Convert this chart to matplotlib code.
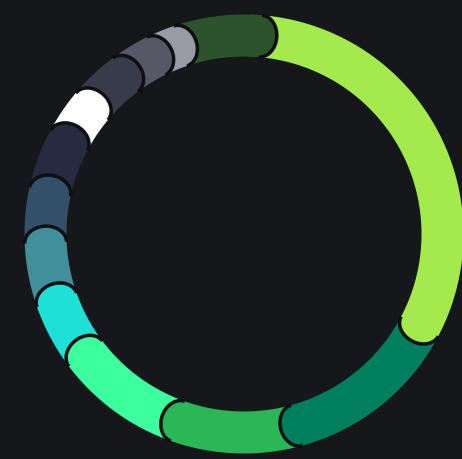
import numpy as np
import matplotlib
matplotlib.use("Agg")
import matplotlib.pyplot as plt
from matplotlib.patches import Polygon

# share of each slice (percent), clockwise from the top
labels = ["A", "B", "C", "D", "E", "F", "G", "H", "I", "J", "K", "L", "M"]
values = [31.4, 13.0, 9.7, 9.3, 4.9, 4.7, 4.1, 4.4, 3.3, 3.7, 2.9, 2.1, 6.5]
colors = [
    "#a3eb4b", "#007f5f", "#2bb755", "#3cff9e", "#1ee0d7", "#418e9c",
    "#33506a", "#252b40", "#ffffff", "#383c4a", "#575766", "#9a9aa6",
    "#2d532c",
]

bg = "#15171a"
edge = "#0e0f11"
W, H = 462, 459
cx, cy = 244, 234
r_out, r_in = 219.5, 177.5
start = 4.7  # degrees clockwise from 12 o'clock
cap_len = 16.5
rm = (r_out + r_in) / 2
half = (r_out - r_in) / 2


def ring_xy(r, theta):
    t = np.radians(theta)
    return cx + r * np.sin(t), cy - r * np.cos(t)


def cap_points(a1):
    a = np.radians(a1)
    u = np.array([np.sin(a), -np.cos(a)])
    t = np.array([np.cos(a), np.sin(a)])
    ctr = np.array([cx, cy]) + rm * u
    phi = np.linspace(0, np.pi, 80)
    return ctr + np.outer(half * np.cos(phi), u) + np.outer(cap_len * np.sin(phi), t)


def slice_shape(a0, a1):
    # outer arc, rounded end, inner arc back
    th = np.linspace(a0, a1, 150)
    xo, yo = ring_xy(r_out, th)
    xi, yi = ring_xy(r_in, th[::-1])
    cap = cap_points(a1)
    return np.vstack([np.column_stack([xo, yo]), cap[1:-1], np.column_stack([xi, yi])])


fig = plt.figure(figsize=(W / 100, H / 100), dpi=100, facecolor=bg)
ax = fig.add_axes([0, 0, 1, 1])
ax.set_facecolor(bg)
ax.set_xlim(0, W)
ax.set_ylim(H, 0)
ax.set_aspect("equal")
ax.axis("off")

angles = np.cumsum([0] + values) / sum(values) * 360 + start
n = len(values)

# draw last to first so every rounded end sits on top of the next slice
for i in range(n - 1, -1, -1):
    pts = slice_shape(angles[i], angles[i + 1])
    ax.add_patch(Polygon(pts, closed=True, facecolor=colors[i], edgecolor="none", zorder=2))

# the last slice wraps onto the first one: put its end back on top
pts = slice_shape(angles[n] - 3, angles[n])
ax.add_patch(Polygon(pts, closed=True, facecolor=colors[-1], edgecolor="none", zorder=3))

for i in range(n):
    pts = cap_points(angles[i + 1])
    ax.plot(pts[:, 0], pts[:, 1], color=edge, lw=2.5, solid_capstyle="butt", zorder=4)

fig.savefig("out.png", dpi=100, facecolor=bg)
